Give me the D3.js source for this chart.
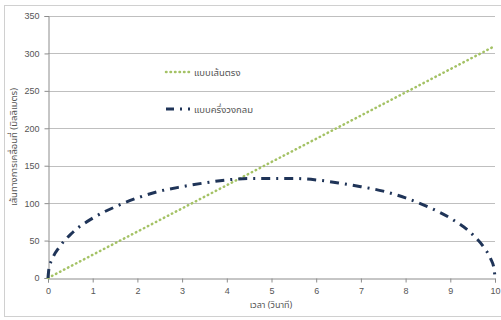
<!DOCTYPE html>
<html>
<head>
<meta charset="utf-8">
<script src="https://cdn.jsdelivr.net/npm/d3@7"></script>
<style>
  body { margin: 0; background: #fff; }
  svg { display: block; font-family: "Noto Sans Thai", "Noto Sans", "DejaVu Sans", sans-serif; }
</style>
</head>
<body>
<svg></svg>
<script>
// ข้อมูลจากกราฟ
const xTicks = [0, 1, 2, 3, 4, 5, 6, 7, 8, 9, 10];
const yTicks = [0, 50, 100, 150, 200, 250, 300, 350];

// แบบเส้นตรง
const lineX = [0, 1, 2, 3, 4, 5, 6, 7, 8, 9, 10];
const lineY = [0, 31, 62, 93, 124, 155, 186, 217, 248, 279, 310];

// แบบครึ่งวงกลม
const arcX = [0, 0.02, 0.1, 0.25, 0.5, 1, 1.5, 2, 2.5, 3, 3.5, 4, 4.5, 5, 5.5, 6, 6.5, 7, 7.5, 8, 8.5, 9, 9.5, 9.75, 9.9, 9.98, 10];
const arcY = [0, 12, 26, 41, 58, 80, 95, 107, 116, 122, 127, 131, 133, 133, 133, 131, 127, 122, 116, 107, 95, 80, 58, 41, 26, 12, 0];

const labels = ["แบบเส้นตรง", "แบบครึ่งวงกลม"];
const xTitle = "เวลา (วินาที)";
const yTitle = "เส้นทางการเคลื่อนที่ (มิลลิเมตร)";

const width = 501, height = 320;
const svg = d3.select("svg").attr("width", width).attr("height", height);

// กรอบนอก
svg.append("rect")
    .attr("x", 4.5).attr("y", 5.5)
    .attr("width", 500).attr("height", 311)
    .attr("fill", "#fff")
    .attr("stroke", "#d0d0d0");

const x = d3.scaleLinear().domain([0, 10]).range([48, 495]);
const y = d3.scaleLinear().domain([0, 350]).range([278, 16]);

// เส้นกริด
svg.append("g")
    .selectAll("line")
    .data(yTicks.slice(1))
    .join("line")
    .attr("x1", x(0)).attr("x2", x(10))
    .attr("y1", d => Math.round(y(d)) + 0.5).attr("y2", d => Math.round(y(d)) + 0.5)
    .attr("stroke", "#bfbfbf");

// แกน y
const yAxis = svg.append("g")
    .attr("transform", `translate(${x(0) + 0.5},0)`)
    .call(d3.axisLeft(y).tickValues(yTicks).tickSize(4).tickPadding(5));
// แกน x
const xAxis = svg.append("g")
    .attr("transform", `translate(0,${Math.round(y(0)) + 0.5})`)
    .call(d3.axisBottom(x).tickValues(xTicks).tickSize(4).tickPadding(5));

[yAxis, xAxis].forEach(a => {
    a.select(".domain").attr("stroke", "#8c8c8c");
    a.selectAll(".tick line").attr("stroke", "#8c8c8c");
    a.selectAll(".tick text").attr("fill", "#555").style("font-size", "9px")
        .style("font-family", "'Liberation Sans', Arial, sans-serif");
});

// เส้นข้อมูล
const lineGen = d3.line().x(d => x(d[0])).y(d => y(d[1]));

svg.append("path")
    .attr("d", lineGen(lineX.map((v, i) => [v, lineY[i]])))
    .attr("fill", "none")
    .attr("stroke", "#a4c265")
    .attr("stroke-width", 2.5)
    .attr("stroke-linecap", "round")
    .attr("stroke-dasharray", "0.5,4");

svg.append("path")
    .attr("d", d3.line().curve(d3.curveMonotoneX).x(d => x(d[0])).y(d => y(d[1]))(arcX.map((v, i) => [v, arcY[i]])))
    .attr("fill", "none")
    .attr("stroke", "#1f3458")
    .attr("stroke-width", 3)
    .attr("stroke-dasharray", "9,6,2,6");

// คำอธิบาย
const legend = svg.append("g");
legend.append("line")
    .attr("x1", 166).attr("x2", 193).attr("y1", 72).attr("y2", 72)
    .attr("stroke", "#a4c265").attr("stroke-width", 2.5)
    .attr("stroke-linecap", "round").attr("stroke-dasharray", "0.5,4");
legend.append("line")
    .attr("x1", 166).attr("x2", 193).attr("y1", 109).attr("y2", 109)
    .attr("stroke", "#1f3458").attr("stroke-width", 3)
    .attr("stroke-dasharray", "8,6,2,6,2,6");
legend.selectAll("text")
    .data(labels)
    .join("text")
    .attr("x", 194)
    .attr("y", (d, i) => i === 0 ? 75.5 : 112.5)
    .attr("fill", "#555")
    .style("font-size", "9.5px")
    .text(d => d);

// ชื่อแกน
svg.append("text")
    .attr("x", 271).attr("y", 308)
    .attr("text-anchor", "middle")
    .attr("fill", "#555")
    .style("font-size", "9px")
    .text(xTitle);

svg.append("text")
    .attr("transform", `translate(17,${y(175)}) rotate(-90)`)
    .attr("text-anchor", "middle")
    .attr("fill", "#555")
    .style("font-size", "9.5px")
    .text(yTitle);
</script>
</body>
</html>
